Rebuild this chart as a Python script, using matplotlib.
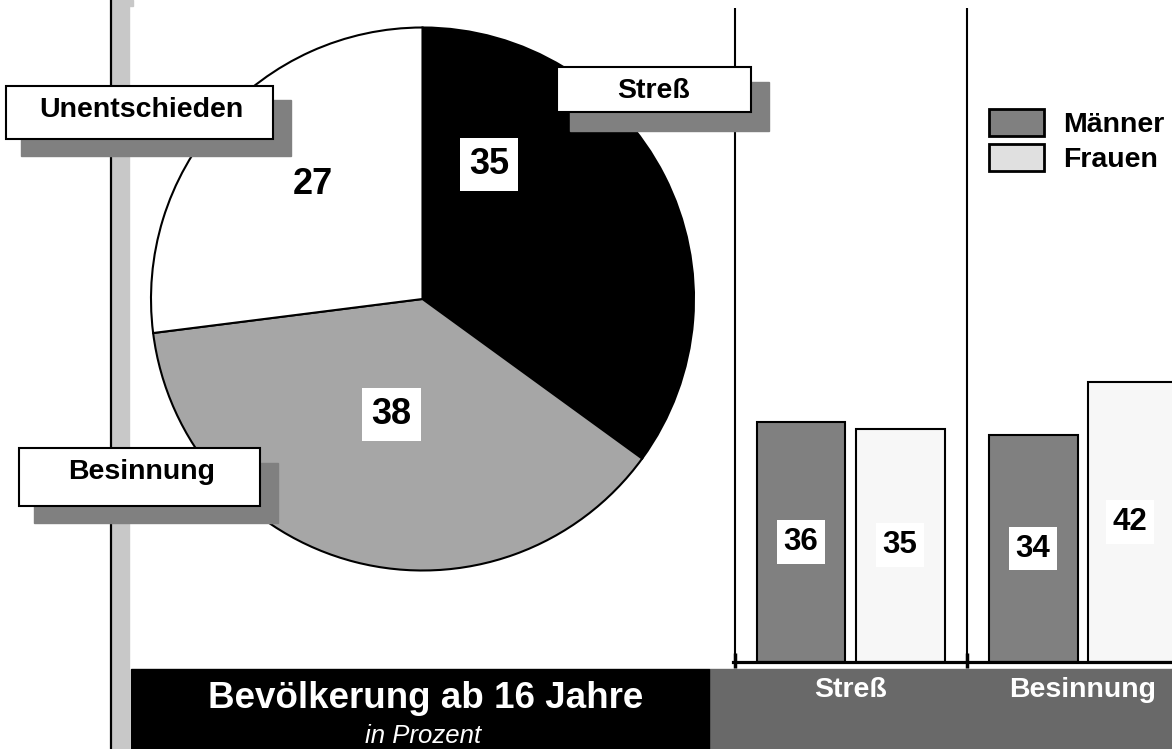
import matplotlib
matplotlib.use("Agg")
import matplotlib.pyplot as plt
import numpy as np
from matplotlib.patches import Rectangle, Patch

# data
pie_labels = ["Streß", "Besinnung", "Unentschieden"]
pie_values = [35, 38, 27]
bar_categories = ["Streß", "Besinnung"]
series_names = ["Männer", "Frauen"]
maenner = [36, 34]
frauen = [35, 42]
title = "Bevölkerung ab 16 Jahre"
subtitle = "in Prozent"

W, H = 1172, 749
plt.rcParams['font.family'] = ['Liberation Sans', 'DejaVu Sans']

fig = plt.figure(figsize=(W / 100, H / 100), dpi=100)


def px_axes(x0, y0, x1, y1, **kw):
    # box given in pixels, origin top left
    return fig.add_axes([x0 / W, 1 - y1 / H, (x1 - x0) / W, (y1 - y0) / H], **kw)


# background: left rail and bottom strip
bg = px_axes(0, 0, W, H, zorder=0)
bg.set_xlim(0, W)
bg.set_ylim(H, 0)
bg.axis('off')
bg.add_patch(Rectangle((709, 669), W - 709, 80, color='#696969'))
bg.add_patch(Rectangle((131, 669), 578, 80, color='black'))
bg.add_patch(Rectangle((112, 0), 17, H, color='#c8c8c8'))
bg.add_patch(Rectangle((112, 0), 21, 6, color='#c8c8c8'))
bg.axvline(110.5, color='black', lw=1.6)

# pie
pax = px_axes(151, 27.5, 694, 570.5, zorder=1)
wedges, _ = pax.pie(pie_values, colors=['black', '#a6a6a6', 'white'], startangle=90,
                    counterclock=False, wedgeprops=dict(edgecolor='black', linewidth=1.5))
for w in wedges:
    w.set_clip_on(False)
pax.set_xlim(-1, 1)
pax.set_ylim(-1, 1)
pax.set_aspect('equal')

pie_text_pos = [(0.245, 0.495), (-0.114, -0.425), (-0.405, 0.422)]
for val, (tx, ty) in zip(pie_values, pie_text_pos):
    pax.text(tx, ty, str(val), ha='center', va='center', fontsize=26, fontweight='bold',
             bbox=dict(boxstyle='square,pad=0.25', fc='white', ec='none'))

# bars
bax = px_axes(733, 8, W, 662, zorder=1)
bax.set_facecolor('none')
x = np.arange(len(bar_categories))
off, bw = 0.2134, 0.3836
b1 = bax.bar(x - off, maenner, bw, color='#808080', edgecolor='black', lw=1.5)
b2 = bax.bar(x + off, frauen, bw, color='#f7f7f7', edgecolor='black', lw=1.5)
bax.set_xlim(-0.5065, 1.3857)
bax.set_ylim(0, 98.05)
for sp in bax.spines.values():
    sp.set_visible(False)
bax.set_yticks([])
bax.set_xticks(x, bar_categories)
bax.tick_params(axis='x', length=0, pad=11, labelcolor='white', labelsize=20.5)
for lab in bax.get_xticklabels():
    lab.set_fontweight('bold')
for xs in x - 0.5:
    bax.axvline(xs, color='black', lw=1.5)
    bax.vlines(xs, -0.9, 1.35, color='black', lw=2.5, clip_on=False)
bax.axhline(0, color='black', lw=2.3, clip_on=False)
for bars in (b1, b2):
    bax.bar_label(bars, label_type='center', fontsize=22.5, fontweight='bold',
                  bbox=dict(boxstyle='square,pad=0.22', fc='white', ec='none'))

handles = [Patch(fc='#808080', ec='black', lw=2, label=series_names[0]),
           Patch(fc='#e0e0e0', ec='black', lw=2, label=series_names[1])]
fig.legend(handles=handles, loc='upper left', bbox_to_anchor=(989 / W, 1 - 109 / H), frameon=False,
           borderpad=0, borderaxespad=0, handlelength=1.94, handleheight=1.1, handletextpad=0.68,
           labelspacing=0.2, prop=dict(size=20.5, weight='bold'))

# overlay: callouts and title
top = px_axes(0, 0, W, H, zorder=3)
top.set_xlim(0, W)
top.set_ylim(H, 0)
top.axis('off')

callouts = {
    "Unentschieden": ((6, 86, 273, 139), (21, 100, 291, 156), (141.5, 117)),
    "Streß": ((557, 67, 751, 112), (570, 82, 769, 131), (653.5, 98)),
    "Besinnung": ((19, 448, 260, 506), (34, 463, 278, 523), (142, 479)),
}
for name in pie_labels:
    box, shadow, (tx, ty) = callouts[name]
    top.add_patch(Rectangle((shadow[0], shadow[1]), shadow[2] - shadow[0], shadow[3] - shadow[1],
                            color='#808080'))
    top.add_patch(Rectangle((box[0], box[1]), box[2] - box[0], box[3] - box[1],
                            fc='white', ec='black', lw=1.5))
    top.text(tx, ty, name, ha='center', va='baseline', fontsize=20.5, fontweight='bold')

top.text(426, 708, title, ha='center', va='baseline', fontsize=26.5, fontweight='bold', color='white')
top.text(423, 743, subtitle, ha='center', va='baseline', fontsize=18.5, style='italic', color='white')

fig.savefig("out.png", dpi=100)
